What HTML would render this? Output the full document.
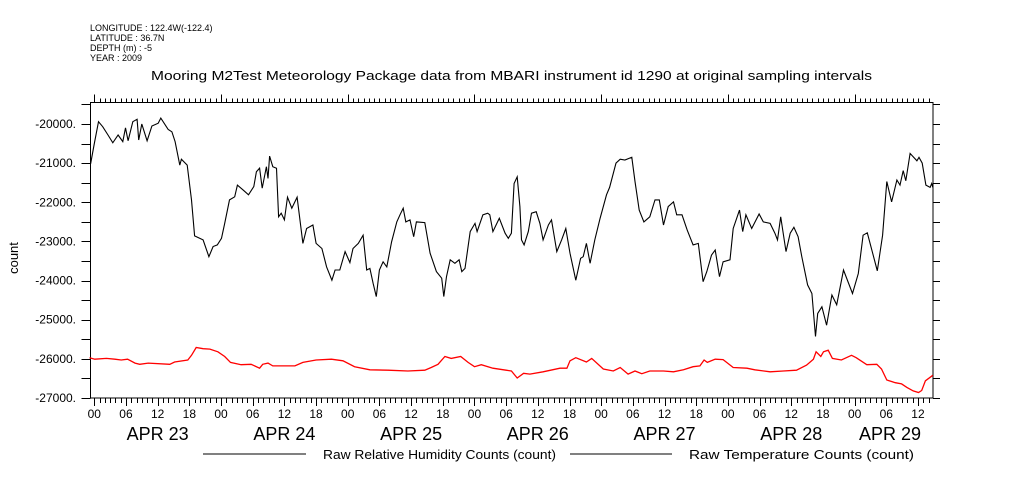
<!DOCTYPE html>
<html><head><meta charset="utf-8"><style>
html,body{margin:0;padding:0;background:#fff;}
svg{display:block;font-family:"Liberation Sans",sans-serif;}
</style></head><body>
<svg id="chart" width="1009" height="504" viewBox="0 0 1009 504" xmlns="http://www.w3.org/2000/svg">
<g font-size="9" fill="#000">
<text x="90" y="31">LONGITUDE : 122.4W(-122.4)</text>
<text x="90" y="41">LATITUDE : 36.7N</text>
<text x="90" y="51">DEPTH (m) : -5</text>
<text x="90" y="61">YEAR : 2009</text>
</g>
<text x="151" y="80" font-size="13" textLength="721" lengthAdjust="spacingAndGlyphs">Mooring M2Test Meteorology Package data from MBARI instrument id 1290 at original sampling intervals</text>
<text transform="translate(18,258) rotate(-90)" font-size="13" text-anchor="middle">count</text>
<g id="axes"></g>
<g id="series"></g>
<g font-size="13">
<line x1="203" y1="454" x2="306" y2="454" stroke="#000" stroke-width="1"/>
<text x="323" y="459" textLength="233" lengthAdjust="spacingAndGlyphs">Raw Relative Humidity Counts (count)</text>
<line x1="570" y1="454" x2="672" y2="454" stroke="#000" stroke-width="1"/>
<text x="689" y="459" textLength="225" lengthAdjust="spacingAndGlyphs">Raw Temperature Counts (count)</text>
</g>
</svg>
<script>
const humHours=[-0.7,0,0.8,1.6,2.6,3.5,4.5,5.4,5.9,6.4,7.3,8.1,8.4,9,10,10.9,12.1,12.6,14,14.7,15.3,16.2,16.5,17.6,18.4,19,20.6,21.7,22.5,23.3,24.1,24.7,25.6,26.6,27.1,28.2,29.2,30.2,30.7,31.3,31.8,32.6,32.9,33.2,33.8,34.5,34.9,35.4,36,36.6,37.4,38.4,39,39.5,40.2,41.4,42,43.1,44,45,45.6,46.5,47.5,48.4,49,50,50.9,51.6,52.2,52.8,53.4,54,54.7,55.4,56.3,57.3,57.9,58.5,59,59.8,60.5,61,62.6,63.6,64.8,65.8,66.2,66.7,67.4,68.3,69.1,69.6,70.2,71.2,72.1,72.5,73.6,74.5,74.9,75.5,76.7,77.8,78.4,79,79.5,80.1,80.6,80.9,81.4,82.2,82.8,83.7,84.4,85,86,86.6,87.6,88.5,89.3,90.1,91.2,92.1,92.6,93.2,93.9,94.8,95.8,97,97.6,98.8,99.6,100.5,101.8,102.4,103.2,104.1,105.2,106.2,107,107.8,108.7,109.7,110.3,111.3,112.3,113.4,114.4,115.3,116,116.9,117.6,118.4,119.1,120.4,121,122.2,122.8,123.4,124.5,125.9,126.7,128,128.9,129.4,130,131,131.8,132.5,133.3,134,135.1,135.9,136.6,137,137.8,138.7,139.7,140.6,141.9,143.6,144.7,145.6,146.4,148.3,149.3,150.1,151,152,152.6,153.2,153.7,154.5,155.8,156.2,156.8,157.5,158.3,158.6,158.8];
const humValues=[-21020,-20500,-19940,-20070,-20280,-20480,-20280,-20450,-20100,-20430,-19940,-19880,-20410,-20000,-20430,-20050,-19980,-19850,-20140,-20200,-20450,-21050,-20900,-21050,-21940,-22860,-22960,-23390,-23130,-23090,-22920,-22540,-21940,-21860,-21560,-21690,-21810,-21600,-21220,-21130,-21640,-21090,-21390,-20820,-21090,-21130,-22370,-22280,-22450,-21870,-22150,-21870,-22500,-23050,-22670,-22580,-23050,-23180,-23650,-23990,-23730,-23730,-23260,-23540,-23180,-23050,-22840,-23730,-23690,-24070,-24410,-23730,-23520,-23650,-23010,-22500,-22320,-22150,-22500,-22450,-22880,-22500,-22520,-23300,-23770,-23940,-24410,-23900,-23470,-23560,-23470,-23770,-23690,-22750,-22540,-22750,-22320,-22280,-22320,-22750,-22410,-22790,-22920,-22790,-21520,-21350,-22110,-22960,-23090,-22750,-22280,-22240,-22540,-22960,-22580,-22450,-23260,-22960,-22670,-23300,-23990,-23430,-23390,-23050,-23560,-22960,-22410,-21810,-21620,-21000,-20900,-20920,-20850,-21470,-22200,-22500,-22370,-21940,-21940,-22580,-22110,-21990,-22320,-22320,-22710,-23090,-23050,-24030,-23770,-23350,-23220,-23900,-23520,-23470,-22670,-22200,-22750,-22320,-22670,-22300,-22500,-22540,-22790,-22960,-22370,-23260,-22790,-22640,-22880,-23390,-24110,-24330,-25430,-24840,-24670,-25140,-24370,-24620,-23730,-24330,-23820,-22840,-22780,-23750,-22840,-21470,-21990,-21430,-21560,-21190,-21450,-20750,-20940,-20850,-21000,-21560,-21620,-21520,-21620];
const tempHours=[-0.9,0.1,2.3,3.9,5.1,6.3,7.7,8.6,10.2,14.3,15.2,17.7,18.4,19.3,20.6,21.9,23.4,24.7,25.8,27.8,29.7,31.3,31.9,32.9,33.8,36.7,38,39.5,42,44.9,47.1,49.3,52.2,55.6,59.4,62.6,63.8,65.1,66.4,67.6,69.4,70.8,72,73.3,75.5,78,79,80.1,81.3,82.5,85,88.2,89.5,90.1,91.2,93.2,94.2,96.4,98.3,99.6,101.1,102.4,103.7,105.2,107.8,109.7,111.6,113.4,114.7,115.5,116.1,117.6,119.1,121,123.6,125.1,128,130.5,133,134.9,136.2,136.7,137.6,138.1,139,139.8,141.5,143.4,144.3,146.3,148.2,149.1,150.1,151.7,152.9,153.9,155.1,156.1,156.7,157.4,158.8];
const tempValues=[-25970,-26010,-25990,-26010,-26030,-26010,-26110,-26140,-26110,-26140,-26080,-26030,-25910,-25710,-25740,-25750,-25820,-25940,-26090,-26150,-26140,-26240,-26140,-26110,-26180,-26180,-26180,-26090,-26030,-26010,-26050,-26200,-26280,-26290,-26310,-26290,-26220,-26140,-25940,-25990,-25940,-26090,-26200,-26150,-26240,-26290,-26310,-26490,-26370,-26390,-26330,-26240,-26240,-26050,-25970,-26080,-25990,-26260,-26310,-26220,-26390,-26310,-26380,-26310,-26310,-26330,-26280,-26200,-26180,-26030,-26090,-26010,-26020,-26220,-26240,-26280,-26330,-26310,-26290,-26160,-26010,-25820,-25940,-25820,-25780,-25990,-26030,-25910,-25970,-26150,-26140,-26260,-26540,-26610,-26640,-26730,-26820,-26860,-26810,-26560,-26420];
const yTickValues=[-20000,-21000,-22000,-23000,-24000,-25000,-26000,-27000];
const yTickLabels=["-20000.","-21000.","-22000.","-23000.","-24000.","-25000.","-26000.","-27000."];
const dayLabels=["APR 23","APR 24","APR 25","APR 26","APR 27","APR 28","APR 29"];
const hourLabels=["00","06","12","18"];

const L=90.5,R=933,T=102.5,B=398;
const X0=94.3,PXH=5.28;
function xs(h){return X0+h*PXH;}
function ys(v){return 124+(-20000-v)*0.03914;}
const NS="http://www.w3.org/2000/svg";
const axes=document.getElementById('axes');
const series=document.getElementById('series');
function mk(tag,attrs,parent){const e=document.createElementNS(NS,tag);for(const k in attrs)e.setAttribute(k,attrs[k]);parent.appendChild(e);return e;}

const frame=mk('rect',{x:L,y:T,width:R-L,height:B-T,fill:'none',stroke:'#000','stroke-width':1},axes);



for(let v=-27000;v<=-19500;v+=500){
  const y=Math.round(ys(v))+0.5;
  const t1=mk('line',{x1:L-9,y1:y,x2:L,y2:y,stroke:'#000'},axes);
  
  
  const t2=mk('line',{x1:R,y1:y,x2:R+7,y2:y,stroke:'#000'},axes);
  
  
}
yTickValues.forEach((v,i)=>{
  const t=mk('text',{x:76,y:ys(v)+4,'font-size':12,'text-anchor':'end'},axes);
  t.textContent=yTickLabels[i];
  
  
});
for(let h=0;h<=158;h++){
  const x=Math.round(xs(h))+0.5;
  if(x<L||x>R)continue;
  const six=(h%6===0), day=(h%24===0);
  const b=mk('line',{x1:x,y1:B,x2:x,y2:B+(six?8:5),stroke:'#000'},axes);
  
  
  const t=mk('line',{x1:x,y1:T,x2:x,y2:T-(day?8:4),stroke:'#000'},axes);
  
  
  if(six){
    const lb=mk('text',{x:xs(h),y:418,'font-size':12,'text-anchor':'middle'},axes);
    lb.textContent=hourLabels[(h%24)/6];
    
    
  }
}
dayLabels.forEach((d,i)=>{
  const cx=Math.min(xs(i*24+12),R-43);
  const t=mk('text',{x:cx,y:440,'font-size':18,'text-anchor':'middle'},axes);
  t.textContent=d;
  
  
});
function pts(hs,vs){return hs.map((h,i)=>xs(h).toFixed(1)+','+ys(vs[i]).toFixed(1)).join(' ');}
const hl=mk('polyline',{points:pts(humHours,humValues),fill:'none',stroke:'#000','stroke-width':1.1},series);


const tl=mk('polyline',{points:pts(tempHours,tempValues),fill:'none',stroke:'#f00','stroke-width':1.3},series);


</script>
</body></html>
